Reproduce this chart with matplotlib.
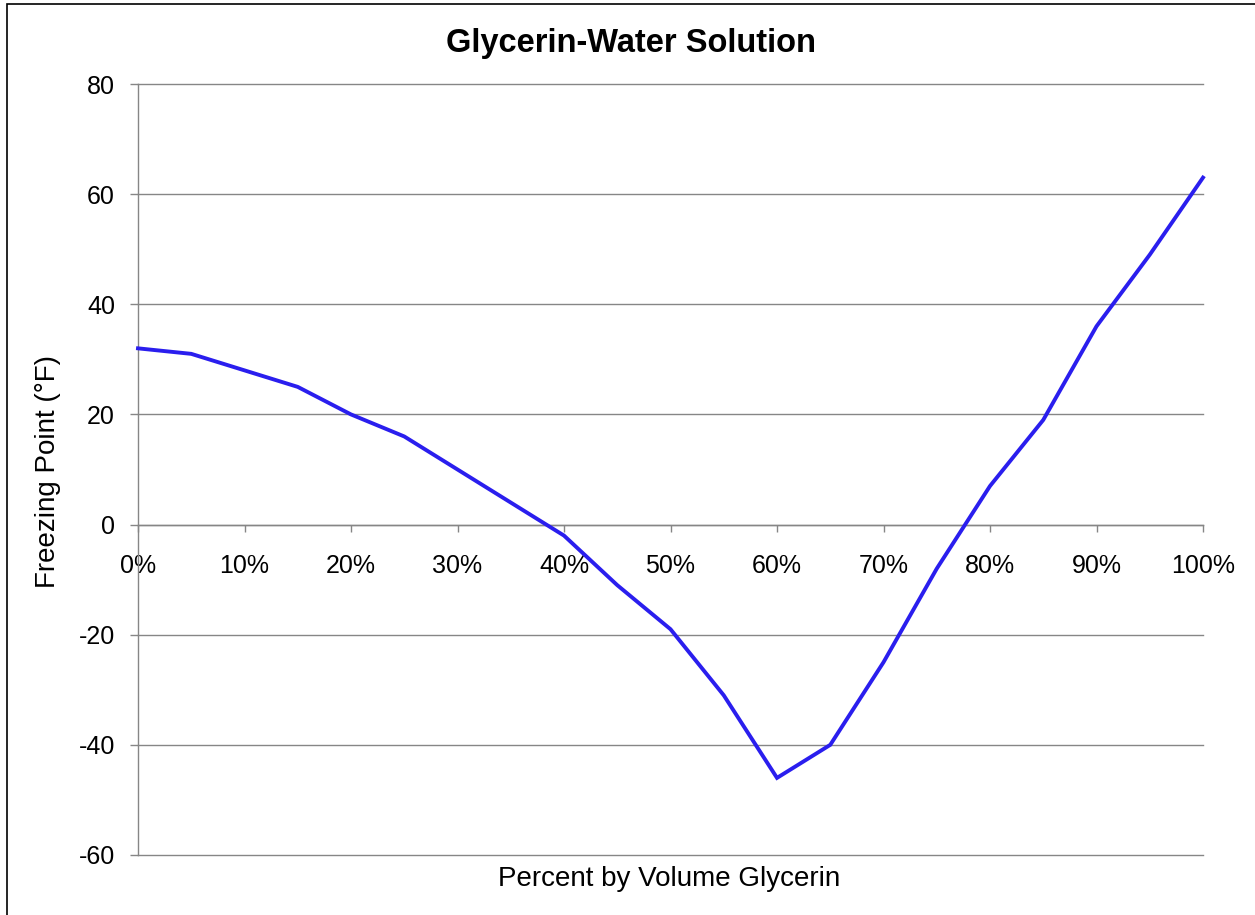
import matplotlib
matplotlib.use("Agg")
import matplotlib.pyplot as plt
from matplotlib.patches import Rectangle

# ---- data ----
pct_glycerin = [0, 5, 10, 15, 20, 25, 30, 35, 40, 45, 50, 55, 60, 65, 70, 75, 80, 85, 90, 95, 100]
freezing_f = [32, 31, 28, 25, 20, 16, 10, 4, -2, -11, -19, -31, -46, -40, -25, -8, 7, 19, 36, 49, 63]
x_ticks = [0, 10, 20, 30, 40, 50, 60, 70, 80, 90, 100]
x_tick_labels = ["0%", "10%", "20%", "30%", "40%", "50%", "60%", "70%", "80%", "90%", "100%"]
y_ticks = [-60, -40, -20, 0, 20, 40, 60, 80]
title = "Glycerin-Water Solution"
x_label = "Percent by Volume Glycerin"
y_label = "Freezing Point (°F)"

plt.rcParams['font.family'] = ['Liberation Sans', 'DejaVu Sans']

W, H = 1255, 915
fig = plt.figure(figsize=(W / 100, H / 100), dpi=100)
fig.patch.set_facecolor('white')

def px(x, y):
    return x / W, 1 - y / H

left, right, top, bottom = 138, 1203, 84, 855
ax = fig.add_axes([left / W, 1 - bottom / H, (right - left) / W, (bottom - top) / H])
ax.set_facecolor('white')

grid_c = '#868686'
ax.plot(pct_glycerin, freezing_f, color='#2A1EEE', lw=2.8, solid_joinstyle='miter', zorder=3, clip_on=False)

ax.set_xlim(0, 100)
ax.set_ylim(-60, 80)
ax.set_xticks(x_ticks)
ax.set_xticklabels(x_tick_labels)
ax.set_yticks(y_ticks)
ax.set_yticklabels([str(v) for v in y_ticks])

ax.yaxis.grid(True, color=grid_c, lw=1.0)
for gl in ax.get_ygridlines():
    gl.set_clip_on(False)
ax.set_axisbelow(True)

for s in ['top', 'right']:
    ax.spines[s].set_visible(False)
ax.spines['left'].set_color(grid_c)
ax.spines['left'].set_linewidth(1.0)
ax.spines['bottom'].set_position(('data', 0))
ax.spines['bottom'].set_color(grid_c)
ax.spines['bottom'].set_linewidth(1.0)

ax.tick_params(axis='x', direction='out', length=5, width=1, color=grid_c,
               pad=16, labelsize=18, labelcolor='black')
ax.tick_params(axis='y', direction='out', length=5.8, width=1, color=grid_c,
               pad=10.8, labelsize=18, labelcolor='black')

# texts
fig.text(*px(631, 52), title, ha='center', va='baseline', fontsize=23.5, fontweight='bold')
fig.text(*px(669, 886), x_label, ha='center', va='baseline', fontsize=20)
fig.text(*px(55, 471), y_label, ha='center', va='baseline', rotation=90,
         rotation_mode='anchor', fontsize=20)

# outer frame (left/top visible; right/bottom run off the image)
fig.patches.append(Rectangle(px(6.5, 930), (1300) / W, (930 - 3.5) / H,
                             transform=fig.transFigure, fill=False,
                             edgecolor='black', lw=1.2, zorder=10))

fig.savefig('out.png', dpi=100, facecolor='white')
